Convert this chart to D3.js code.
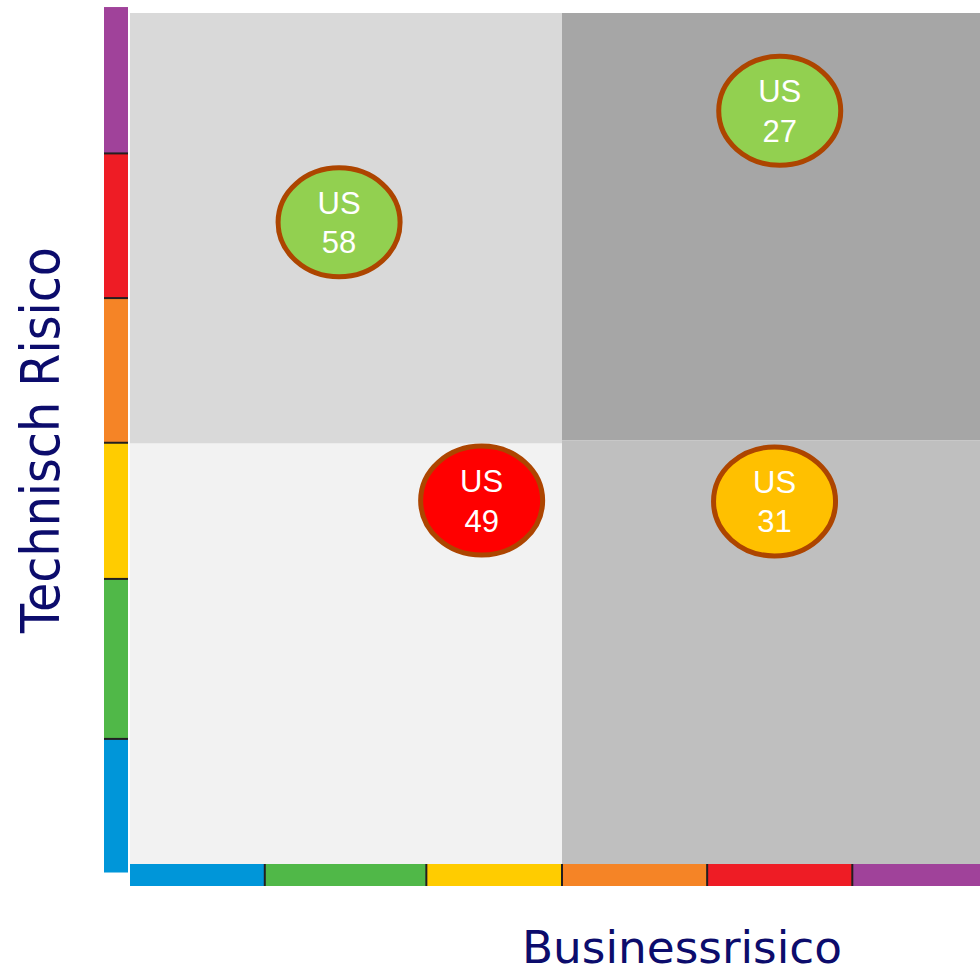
<!DOCTYPE html>
<html>
<head>
<meta charset="utf-8">
<script src="https://cdn.jsdelivr.net/npm/d3@7"></script>
<style>
  html, body { margin: 0; padding: 0; background: #fff; overflow: hidden; }
  svg { display: block; }
</style>
</head>
<body>
<svg id="chart" width="980" height="976"></svg>
<script>
// risk bands along each axis (low -> high), in risk units 0..100
const bandColors = ['#0096d9', '#50b848', '#ffcc00', '#f58426', '#ee1c25', '#a0429a']
const xBandEdges = [0, 15.6, 34.3, 50, 66.8, 83.6, 100]
const yBandEdges = [-1, 14.7, 33.5, 49.5, 66.5, 83.5, 100.7]

// quadrants: business risk range, technical risk range, shade
const quadX0 = [0, 50, 0, 50]
const quadX1 = [50, 100, 50, 100]
const quadY0 = [49.4, 49.8, 0, 0]
const quadY1 = [100, 100, 49.4, 49.8]
const quadFill = ['#d9d9d9', '#a6a6a6', '#f2f2f2', '#bfbfbf']

// user stories
const storyIds = ['58', '27', '49', '31']
const businessRisk = [24.2, 75.2, 40.7, 74.6]
const technicalRisk = [75.4, 88.5, 42.7, 42.6]
const storyColor = ['#92d050', '#92d050', '#ff0000', '#ffc000']

const xTitle = 'Businessrisico'
const yTitle = 'Technisch Risico'

const svg = d3.select('#chart')
const x = d3.scaleLinear().domain([0, 100]).range([130, 994])
const y = d3.scaleLinear().domain([0, 100]).range([864, 13])

// quadrant background
svg.append('g')
  .selectAll('rect')
  .data(quadFill)
  .join('rect')
  .attr('x', (d, i) => x(quadX0[i]))
  .attr('width', (d, i) => x(quadX1[i]) - x(quadX0[i]))
  .attr('y', (d, i) => y(quadY1[i]))
  .attr('height', (d, i) => y(quadY0[i]) - y(quadY1[i]))
  .attr('fill', d => d)

// coloured scale along the bottom
const bottom = svg.append('g')
bottom.selectAll('rect')
  .data(bandColors)
  .join('rect')
  .attr('x', (d, i) => x(xBandEdges[i]))
  .attr('width', (d, i) => x(xBandEdges[i + 1]) - x(xBandEdges[i]))
  .attr('y', 864)
  .attr('height', 22)
  .attr('fill', d => d)
bottom.selectAll('line')
  .data(xBandEdges.slice(1, -1))
  .join('line')
  .attr('x1', d => x(d)).attr('x2', d => x(d))
  .attr('y1', 864).attr('y2', 886)
  .attr('stroke', '#231f20')
  .attr('stroke-width', 2)

// coloured scale along the left side
const left = svg.append('g')
left.selectAll('rect')
  .data(bandColors)
  .join('rect')
  .attr('x', 104)
  .attr('width', 24)
  .attr('y', (d, i) => y(yBandEdges[i + 1]))
  .attr('height', (d, i) => y(yBandEdges[i]) - y(yBandEdges[i + 1]))
  .attr('fill', d => d)
left.selectAll('line')
  .data(yBandEdges.slice(1, -1))
  .join('line')
  .attr('x1', 104).attr('x2', 128)
  .attr('y1', d => y(d)).attr('y2', d => y(d))
  .attr('stroke', '#231f20')
  .attr('stroke-width', 2)

// stories
const story = svg.append('g')
  .selectAll('g')
  .data(storyIds)
  .join('g')
  .attr('transform', (d, i) => 'translate(' + x(businessRisk[i]) + ',' + y(technicalRisk[i]) + ')')

story.append('ellipse')
  .attr('rx', 61)
  .attr('ry', 54.5)
  .attr('fill', (d, i) => storyColor[i])
  .attr('stroke', '#ad4500')
  .attr('stroke-width', 5)

story.append('text')
  .attr('text-anchor', 'middle')
  .attr('y', -8.5)
  .attr('fill', '#fff')
  .style('font', '31px "Liberation Sans", Arial, sans-serif')
  .text('US')

story.append('text')
  .attr('text-anchor', 'middle')
  .attr('y', 31)
  .attr('fill', '#fff')
  .style('font', '31px "Liberation Sans", Arial, sans-serif')
  .text(d => d)

// axis titles
svg.append('text')
  .attr('x', 522)
  .attr('y', 963)
  .attr('fill', '#0c0c6c')
  .attr('textLength', 320)
  .attr('lengthAdjust', 'spacingAndGlyphs')
  .style('font', '45px "DejaVu Sans", sans-serif')
  .text(xTitle)

svg.append('text')
  .attr('transform', 'translate(59,633) rotate(-90)')
  .attr('fill', '#0c0c6c')
  .attr('textLength', 386)
  .attr('lengthAdjust', 'spacingAndGlyphs')
  .style('font', '54px "DejaVu Sans", sans-serif')
  .text(yTitle)
</script>
</body>
</html>
